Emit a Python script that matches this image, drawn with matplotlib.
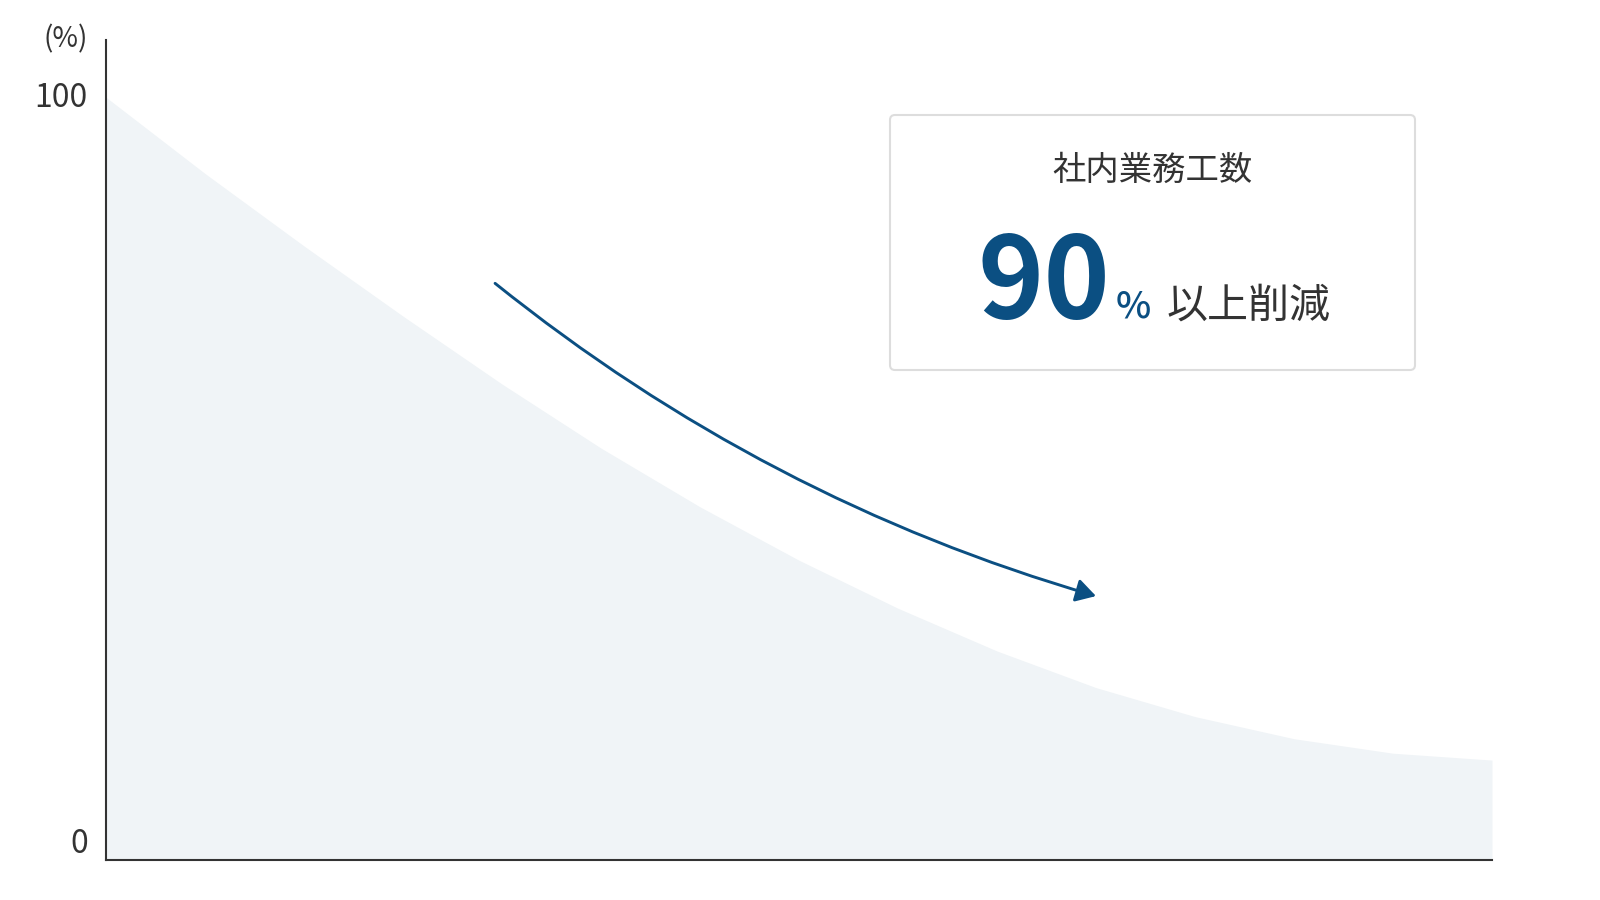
import matplotlib
matplotlib.use('Agg')
import matplotlib.pyplot as plt
from matplotlib.patches import FancyBboxPatch
from matplotlib.transforms import ScaledTranslation

# ---- data ----
step = list(range(15))
workload_pct = [100, 90.0, 80.5, 71.3, 62.4, 54.0, 46.3, 39.3, 33.0, 27.4, 22.6, 18.8, 15.9, 14.0, 13.1]
ytick_vals = [0, 100]
ytick_labels = ['0', '100']
unit_label = '(%)'
box_title = '社内業務工数'
big_number = '90'
pct_sign = '%'
suffix = '以上削減'
arrow_start = (3.93, 75.6)
arrow_end = (10.0, 34.6)

plt.rcParams['font.family'] = ['Noto Sans CJK JP', 'DejaVu Sans']

W, H = 1600, 900
fig = plt.figure(figsize=(16, 9), dpi=100)
ax = fig.add_axes([106 / W, 1 - 860 / H, (1492 - 106) / W, (860 - 40) / H])

ax.fill_between(step, workload_pct, 0, color='#f0f4f7', linewidth=0, zorder=1)
ax.set_xlim(0, 14)
ax.set_ylim(0, 107.5)

for s in ['top', 'right']:
    ax.spines[s].set_visible(False)
for s in ['left', 'bottom']:
    ax.spines[s].set_color('#333333')
    ax.spines[s].set_linewidth(1.5)
    ax.spines[s].set_zorder(3)

ax.set_xticks([])
ax.set_yticks(ytick_vals)
ax.set_yticklabels(ytick_labels)
ax.tick_params(axis='y', length=0, pad=13, labelsize=23, labelcolor='#333333')
for tick in ax.yaxis.get_major_ticks():
    lab = tick.label1
    if lab.get_text() == '0':
        lab.set_verticalalignment('bottom')
    else:
        lab.set_transform(lab.get_transform() + ScaledTranslation(0, 0.03, fig.dpi_scale_trans))

ax.annotate('', xy=arrow_end, xytext=arrow_start,
            arrowprops=dict(arrowstyle='-|>,head_length=0.6,head_width=0.35',
                            color='#0b4f82', lw=2.1,
                            connectionstyle='arc3,rad=0.1',
                            shrinkA=0, shrinkB=0, mutation_scale=20),
            zorder=4)

fig.text(88 / W, 1 - 39 / H, unit_label, ha='right', va='center', fontsize=20, color='#333333')

box = FancyBboxPatch((8.90, 5.30), 5.25, 2.55,
                     boxstyle='round,pad=0,rounding_size=0.05',
                     transform=fig.dpi_scale_trans,
                     facecolor='white', edgecolor='#dddddd', linewidth=1.5)
fig.add_artist(box)

fig.text(1152 / W, 1 - 170 / H, box_title, ha='center', va='center', fontsize=24, color='#333333')
base_y = 1 - 318 / H
fig.text(1110 / W, base_y, big_number, ha='right', va='baseline', fontsize=81,
         fontweight='bold', color='#0b4f82')
fig.text(1116 / W, base_y, pct_sign, ha='left', va='baseline', fontsize=27,
         fontweight='medium', color='#0b4f82')
fig.text(1167 / W, base_y, suffix, ha='left', va='baseline', fontsize=29.5, color='#333333')

fig.savefig('out.png', dpi=100)
